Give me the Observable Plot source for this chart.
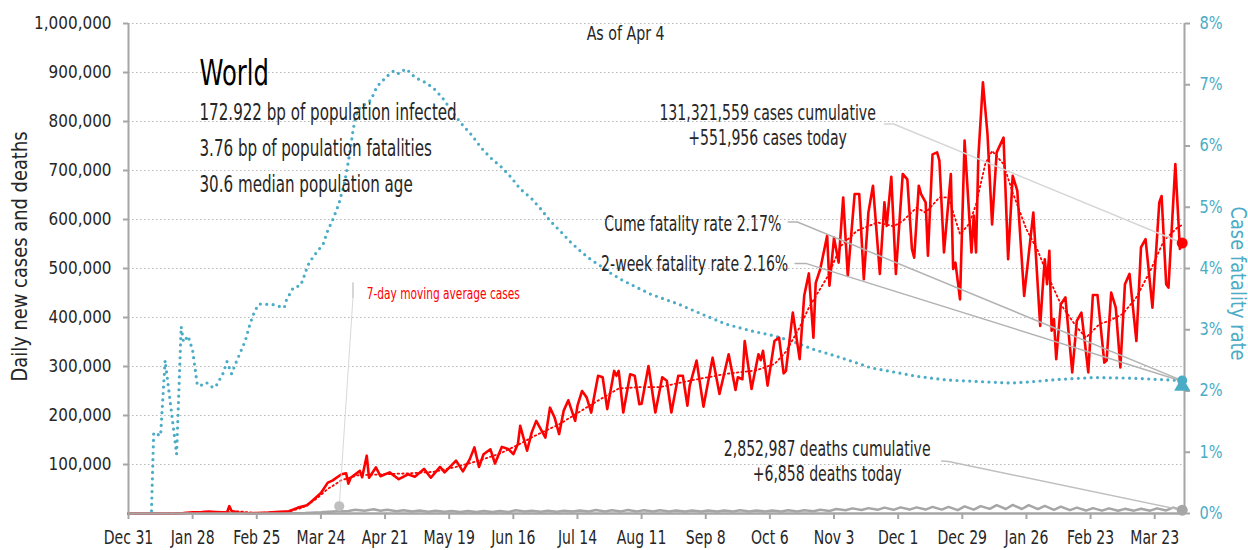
<!DOCTYPE html>
<html><head><meta charset="utf-8">
<script src="https://cdn.jsdelivr.net/npm/d3@7"></script>
<script src="https://cdn.jsdelivr.net/npm/@observablehq/plot@0.6"></script>
<style>
html,body{margin:0;padding:0;background:#fff;}
#chart svg{display:block;}
</style></head><body><div id="chart"></div>
<script>
// ---------- data ----------
const dailyCases = [
["2019-12-31",0],["2020-01-20",200],["2020-01-24",700],["2020-01-28",2500],["2020-02-01",2800],["2020-02-04",3900],
["2020-02-07",3200],["2020-02-10",2500],["2020-02-12",2000],["2020-02-13",15000],["2020-02-14",5000],["2020-02-17",2000],
["2020-02-21",600],["2020-02-25",900],["2020-03-01",1800],["2020-03-06",3500],["2020-03-10",4500],["2020-03-14",12000],
["2020-03-18",17000],["2020-03-21",29000],["2020-03-24",42000],["2020-03-27",63000],["2020-03-29",67000],["2020-04-02",80000],
["2020-04-04",82000],["2020-04-05",61000],["2020-04-06",73000],["2020-04-10",87000],["2020-04-11",74000],["2020-04-13",118000],
["2020-04-14",73000],["2020-04-17",94000],["2020-04-19",76000],["2020-04-23",84000],["2020-04-27",70000],["2020-05-01",80000],
["2020-05-04",75000],["2020-05-08",91000],["2020-05-11",73000],["2020-05-15",95000],["2020-05-17",84000],["2020-05-22",108000],
["2020-05-25",86000],["2020-05-28",111000],["2020-05-30",135000],["2020-06-01",95000],["2020-06-03",121000],["2020-06-06",131000],
["2020-06-08",102000],["2020-06-11",136000],["2020-06-14",131000],["2020-06-16",121000],["2020-06-18",142000],["2020-06-19",179000],
["2020-06-22",128000],["2020-06-24",165000],["2020-06-26",189000],["2020-06-30",155000],["2020-07-02",216000],["2020-07-04",196000],
["2020-07-06",162000],["2020-07-08",210000],["2020-07-10",231000],["2020-07-13",189000],["2020-07-14",220000],["2020-07-16",250000],
["2020-07-18",237000],["2020-07-20",206000],["2020-07-23",281000],["2020-07-25",278000],["2020-07-27",213000],["2020-07-30",291000],
["2020-07-31",281000],["2020-08-01",291000],["2020-08-03",206000],["2020-08-06",284000],["2020-08-08",281000],["2020-08-10",223000],
["2020-08-11",224000],["2020-08-14",301000],["2020-08-17",206000],["2020-08-20",278000],["2020-08-22",271000],["2020-08-24",206000],
["2020-08-27",281000],["2020-08-29",281000],["2020-08-31",220000],["2020-09-01",261000],["2020-09-04",312000],["2020-09-07",218000],
["2020-09-11",318000],["2020-09-14",244000],["2020-09-18",325000],["2020-09-21",252000],["2020-09-22",278000],["2020-09-24",274000],
["2020-09-25",352000],["2020-09-28",254000],["2020-10-01",325000],["2020-10-02",313000],["2020-10-03",332000],["2020-10-05",261000],
["2020-10-08",352000],["2020-10-10",359000],["2020-10-12",286000],["2020-10-13",291000],["2020-10-16",410000],["2020-10-19",315000],
["2020-10-21",445000],["2020-10-23",490000],["2020-10-25",359000],["2020-10-26",470000],["2020-10-28",499000],["2020-10-31",567000],
["2020-11-01",465000],["2020-11-03",563000],["2020-11-05",512000],["2020-11-07",645000],["2020-11-09",485000],["2020-11-12",652000],
["2020-11-14",652000],["2020-11-16",478000],["2020-11-18",614000],["2020-11-20",669000],["2020-11-23",489000],["2020-11-25",635000],
["2020-11-26",587000],["2020-11-28",687000],["2020-11-30",489000],["2020-12-03",693000],["2020-12-05",682000],["2020-12-07",540000],
["2020-12-08",522000],["2020-12-10",669000],["2020-12-11",652000],["2020-12-13",635000],["2020-12-14",526000],["2020-12-16",733000],
["2020-12-18",737000],["2020-12-19",720000],["2020-12-21",533000],["2020-12-24",693000],["2020-12-25",499000],["2020-12-26",512000],
["2020-12-28",437000],["2020-12-30",761000],["2021-01-02",533000],["2021-01-03",608000],["2021-01-04",533000],["2021-01-05",727000],
["2021-01-07",880000],["2021-01-09",774000],["2021-01-11",590000],["2021-01-13",737000],["2021-01-16",767000],["2021-01-18",519000],
["2021-01-20",689000],["2021-01-22",659000],["2021-01-25",444000],["2021-01-29",614000],["2021-02-01",383000],["2021-02-02",454000],
["2021-02-03",519000],["2021-02-04",468000],["2021-02-05",536000],["2021-02-06",373000],["2021-02-07",397000],["2021-02-08",315000],
["2021-02-10",427000],["2021-02-12",441000],["2021-02-15",288000],["2021-02-17",393000],["2021-02-19",410000],["2021-02-22",288000],
["2021-02-24",446000],["2021-02-26",446000],["2021-03-01",308000],["2021-03-02",312000],["2021-03-04",451000],["2021-03-06",420000],
["2021-03-08",298000],["2021-03-10",468000],["2021-03-12",489000],["2021-03-15",352000],["2021-03-17",543000],["2021-03-19",560000],
["2021-03-22",420000],["2021-03-25",635000],["2021-03-26",648000],["2021-03-28",468000],["2021-03-29",461000],["2021-04-01",713000],
["2021-04-03",540000],["2021-04-04",551956]
];

const movingAverageCases = [
["2020-01-10",0],["2020-01-22",300],["2020-01-28",1500],["2020-02-05",3000],["2020-02-12",2500],["2020-02-17",4500],
["2020-02-24",1200],["2020-03-03",1800],["2020-03-10",4000],["2020-03-16",12000],["2020-03-22",30000],["2020-03-27",50000],
["2020-04-02",68000],["2020-04-09",78000],["2020-04-20",80000],["2020-05-01",82000],["2020-05-12",85000],["2020-05-22",95000],
["2020-06-01",108000],["2020-06-10",122000],["2020-06-18",140000],["2020-06-26",160000],["2020-07-06",182000],["2020-07-14",205000],
["2020-07-21",225000],["2020-08-01",255000],["2020-08-10",258000],["2020-08-19",258000],["2020-09-02",272000],["2020-09-17",285000],
["2020-09-30",292000],["2020-10-08",305000],["2020-10-13",330000],["2020-10-19",380000],["2020-10-23",420000],["2020-10-31",482000],
["2020-11-06",546000],["2020-11-13",577000],["2020-11-22",594000],["2020-11-29",586000],["2020-12-03",597000],["2020-12-09",624000],
["2020-12-13",614000],["2020-12-19",645000],["2020-12-23",645000],["2020-12-28",570000],["2021-01-01",591000],["2021-01-04",631000],
["2021-01-08",713000],["2021-01-11",740000],["2021-01-16",713000],["2021-01-20",655000],["2021-01-26",580000],["2021-01-31",536000],
["2021-02-04",489000],["2021-02-10",427000],["2021-02-17",380000],["2021-02-21",359000],["2021-02-27",387000],["2021-03-03",393000],
["2021-03-09",407000],["2021-03-15",441000],["2021-03-21",495000],["2021-03-27",557000],["2021-04-02",584000],["2021-04-04",589000]
];

const dailyDeaths = [
["2019-12-31",0],["2020-01-10",0],["2020-01-23",10],["2020-01-31",45],["2020-02-10",100],["2020-02-20",120],["2020-02-24",150],
["2020-03-01",70],["2020-03-10",300],["2020-03-17",900],["2020-03-24",2400],["2020-03-31",4700],["2020-04-05",5000],["2020-04-08",7500],
["2020-04-12",5500],["2020-04-16",8500],["2020-04-19",5500],["2020-04-22",7500],["2020-04-26",4500],["2020-04-29",6800],["2020-05-03",4000],
["2020-05-06",6200],["2020-05-10",3800],["2020-05-13",5500],["2020-05-17",3600],["2020-05-20",5000],["2020-05-24",3000],["2020-05-27",5300],
["2020-05-31",3000],["2020-06-03",5200],["2020-06-07",3200],["2020-06-10",5000],["2020-06-14",3200],["2020-06-17",6500],["2020-06-21",3900],
["2020-06-24",5500],["2020-06-28",3500],["2020-07-01",5500],["2020-07-05",3800],["2020-07-08",5800],["2020-07-12",4000],["2020-07-15",6000],
["2020-07-19",4000],["2020-07-22",7000],["2020-07-26",4300],["2020-07-29",6500],["2020-08-02",4300],["2020-08-05",7000],["2020-08-09",4300],
["2020-08-12",6800],["2020-08-16",4200],["2020-08-19",6800],["2020-08-23",4000],["2020-08-26",6200],["2020-08-30",4000],["2020-09-02",6200],
["2020-09-06",4000],["2020-09-09",6000],["2020-09-13",4000],["2020-09-16",6300],["2020-09-20",4000],["2020-09-23",6500],["2020-09-27",3900],
["2020-09-30",6300],["2020-10-04",4000],["2020-10-07",6300],["2020-10-11",4000],["2020-10-14",6600],["2020-10-18",4300],["2020-10-21",6800],
["2020-10-25",4500],["2020-10-28",7500],["2020-11-01",5200],["2020-11-04",9200],["2020-11-08",6500],["2020-11-11",10500],["2020-11-15",7000],
["2020-11-18",11000],["2020-11-22",7500],["2020-11-25",12000],["2020-11-29",7500],["2020-12-02",12500],["2020-12-06",8000],["2020-12-09",12500],
["2020-12-13",8000],["2020-12-16",13500],["2020-12-20",8000],["2020-12-23",13500],["2020-12-27",6800],["2020-12-30",14500],["2021-01-03",7800],
["2021-01-06",15000],["2021-01-10",9500],["2021-01-13",17000],["2021-01-17",9200],["2021-01-20",17500],["2021-01-24",9200],["2021-01-27",17000],
["2021-01-31",9000],["2021-02-03",15500],["2021-02-07",7500],["2021-02-10",14000],["2021-02-14",6800],["2021-02-17",12000],["2021-02-21",6000],
["2021-02-24",11000],["2021-02-28",5800],["2021-03-03",10500],["2021-03-07",5500],["2021-03-10",9500],["2021-03-14",5800],["2021-03-17",9600],
["2021-03-21",5800],["2021-03-24",10500],["2021-03-28",6200],["2021-03-31",12000],["2021-04-04",6858]
];

// case fatality rate, percent (right axis)
const caseFatalityRate = [
["2019-12-31",0],["2020-01-10",0],["2020-01-11",1.32],["2020-01-14",1.27],["2020-01-16",2.5],["2020-01-21",0.97],["2020-01-23",3.05],
["2020-01-24",2.8],["2020-01-26",2.9],["2020-01-28",2.66],["2020-01-30",2.11],["2020-01-31",2.08],["2020-02-03",2.14],["2020-02-05",2.07],
["2020-02-07",2.06],["2020-02-08",2.14],["2020-02-10",2.26],["2020-02-12",2.48],["2020-02-13",2.38],["2020-02-14",2.28],["2020-02-16",2.47],
["2020-02-20",2.82],["2020-02-22",3.09],["2020-02-24",3.30],["2020-02-26",3.42],["2020-03-03",3.41],["2020-03-08",3.36],["2020-03-09",3.49],
["2020-03-12",3.69],["2020-03-15",3.72],["2020-03-16",3.80],["2020-03-17",3.91],["2020-03-18",4.02],["2020-03-19",4.10],["2020-03-21",4.21],
["2020-03-25",4.40],["2020-03-27",4.62],["2020-03-29",4.78],["2020-03-31",4.97],["2020-04-01",5.08],["2020-04-02",5.22],["2020-04-03",5.35],
["2020-04-04",5.54],["2020-04-05",5.75],["2020-04-06",5.98],["2020-04-07",6.25],["2020-04-08",6.45],["2020-04-09",6.58],["2020-04-11",6.66],
["2020-04-13",6.69],["2020-04-15",6.76],["2020-04-16",6.85],["2020-04-17",6.93],["2020-04-19",7.04],["2020-04-21",7.10],["2020-04-23",7.18],
["2020-04-25",7.23],["2020-04-27",7.18],["2020-04-30",7.26],["2020-05-02",7.20],["2020-05-04",7.12],["2020-05-08",7.05],["2020-05-12",6.95],
["2020-05-16",6.79],["2020-05-20",6.58],["2020-05-24",6.38],["2020-05-29",6.17],["2020-06-02",5.97],["2020-06-06",5.81],["2020-06-11",5.65],
["2020-06-15",5.49],["2020-06-19",5.30],["2020-06-24",5.14],["2020-06-28",4.97],["2020-07-02",4.78],["2020-07-07",4.59],["2020-07-11",4.43],
["2020-07-16",4.26],["2020-07-20",4.14],["2020-07-25",4.02],["2020-07-29",3.91],["2020-08-03",3.80],["2020-08-15",3.58],["2020-08-27",3.42],
["2020-09-06",3.26],["2020-09-17",3.09],["2020-09-28",2.98],["2020-10-08",2.90],["2020-10-15",2.82],["2020-10-25",2.68],["2020-11-03",2.58],
["2020-11-12",2.47],["2020-11-19",2.38],["2020-11-29",2.31],["2020-12-09",2.24],["2020-12-22",2.18],["2021-01-02",2.16],["2021-01-13",2.14],
["2021-01-19",2.13],["2021-01-28",2.15],["2021-02-06",2.18],["2021-02-14",2.20],["2021-02-25",2.22],["2021-03-12",2.21],["2021-03-24",2.19],
["2021-04-04",2.17]
];

const xTickDates = ["2019-12-31","2020-01-28","2020-02-25","2020-03-24","2020-04-21","2020-05-19","2020-06-16","2020-07-14",
  "2020-08-11","2020-09-08","2020-10-06","2020-11-03","2020-12-01","2020-12-29","2021-01-26","2021-02-23","2021-03-23"];
const leftTicks = [100000,200000,300000,400000,500000,600000,700000,800000,900000,1000000];
const rightTicksPct = [0,1,2,3,4,5,6,7,8];

const lastDate = "2021-04-04";
const casesToday = 551956, deathsToday = 6858;
const cumeFatalityRate = 2.17, twoWeekFatalityRate = 2.16;
const labelTexts = {
  region: "World",
  infected: "172.922 bp of population infected",
  fatalities: "3.76 bp of population fatalities",
  age: "30.6 median population age",
  asOf: "As of Apr 4",
  casesCum: "131,321,559 cases cumulative",
  casesToday: "+551,956 cases today",
  cume: "Cume fatality rate 2.17%",
  twoWeek: "2-week fatality rate 2.16%",
  deathsCum: "2,852,987 deaths cumulative",
  deathsToday: "+6,858 deaths today",
  ma: "7-day moving average cases",
  yLeft: "Daily new cases and deaths",
  yRight: "Case fatality rate"
};

// ---------- build ----------
const FONT = "'Liberation Sans Narrow','Arial Narrow','DejaVu Sans Condensed',sans-serif";
const RED = "#ff0000", TEAL = "#4bacc6", GRAY = "#a6a6a6", INK = "#262626";
const PCT = 125000; // 1 percentage point on the right axis = 125,000 on the left axis (8% <-> 1,000,000)
const parse = d3.utcParse("%Y-%m-%d");
const rows = arr => arr.map(([d, v]) => ({date: parse(d), value: v}));
const cases = rows(dailyCases), ma = rows(movingAverageCases), deaths = rows(dailyDeaths);
const cfr = caseFatalityRate.map(([d, v]) => ({date: parse(d), value: v * PCT}));
const xDomain = [parse("2019-12-31"), parse("2021-04-05")];
const D = parse(lastDate);

const note = (date, value, text, o = {}) =>
  Plot.text([text], {x: [parse(date)], y: [value], text: d => d, fill: INK, fontSize: 21, textAnchor: "start", ...o});
const leader = (pts, o = {}) =>
  Plot.line(pts.map(([d, v]) => ({date: typeof d === "string" ? parse(d) : d, value: v})),
    {x: "date", y: "value", stroke: "#b3b3b3", strokeWidth: 1.5, ...o});

const chart = Plot.plot({
  width: 1248, height: 550,
  marginLeft: 128, marginRight: 64, marginTop: 23, marginBottom: 37,
  x: {type: "utc", domain: xDomain},
  y: {domain: [0, 1000000]},
  style: {fontFamily: FONT, fontSize: "20px", background: "#fff", overflow: "visible", color: INK},
  marks: [
    Plot.gridY(leftTicks, {stroke: "#b8b8b8", strokeOpacity: 1, strokeWidth: 1.2, strokeDasharray: "1.5,2.5"}),
    // case fatality rate (right axis)
    Plot.line(cfr, {x: "date", y: "value", stroke: TEAL, strokeWidth: 3.2, strokeDasharray: "0,6.4", strokeLinecap: "round"}),
    // deaths
    Plot.line(deaths, {x: "date", y: "value", stroke: GRAY, strokeWidth: 2.5}),
    // 7-day moving average cases
    Plot.line(ma, {x: "date", y: "value", stroke: RED, strokeWidth: 1.8, strokeDasharray: "1.5,3"}),
    // daily cases
    Plot.line(cases, {x: "date", y: "value", stroke: RED, strokeWidth: 2.6, strokeLinejoin: "round"}),
    // axis lines
    Plot.ruleX([xDomain[0]], {stroke: GRAY, strokeWidth: 2}),
    Plot.ruleX([xDomain[1]], {stroke: GRAY, strokeWidth: 2}),
    Plot.ruleY([0], {stroke: GRAY, strokeWidth: 2.5}),
    Plot.axisX({ticks: xTickDates.map(parse), tickFormat: d3.utcFormat("%b %-d"), tickSize: 6, tickPadding: 10,
      stroke: GRAY, strokeWidth: 2, fill: INK, fontSize: 20, label: null}),
    Plot.axisY({ticks: leftTicks, tickFormat: d3.format(","), tickSize: 5, tickPadding: 12, stroke: GRAY, strokeWidth: 2,
      fill: INK, fontSize: 18, label: null}),
    Plot.axisY({anchor: "right", ticks: rightTicksPct.map(p => p * PCT), tickFormat: v => Math.round(v / PCT) + "%",
      tickSize: 5, tickPadding: 10, stroke: GRAY, strokeWidth: 2, fill: TEAL, fontSize: 17, label: null}),
    Plot.text([labelTexts.yLeft], {frameAnchor: "left", textAnchor: "middle", rotate: -90, dx: -108, dy: -12, fontSize: 20.5, fill: INK}),
    Plot.text([labelTexts.yRight], {frameAnchor: "right", textAnchor: "middle", rotate: 90, dx: 53, dy: 15, fontSize: 20.5, fill: TEAL}),
    // leader lines
    leader([["2020-11-25", 795000], ["2020-11-29", 795000], [D, casesToday]], {stroke: "#d6d6d6"}),
    leader([["2020-10-14", 595000], ["2020-10-18", 595000], [D, cumeFatalityRate * PCT]]),
    leader([["2020-10-17", 510000], ["2020-10-22", 510000], [D, twoWeekFatalityRate * PCT]]),
    leader([["2020-12-20", 107000], ["2020-12-23", 106000], [D, deathsToday]], {stroke: "#bfbfbf"}),
    leader([["2020-04-07", 441000], ["2020-04-01", 15000]], {stroke: "#d9d9d9", strokeWidth: 1}),
    leader([["2020-04-07", 471000], ["2020-04-07", 441000]], {stroke: "#b0b0b0", strokeWidth: 1}),
    // end markers
    Plot.dot([0], {x: [parse("2020-04-01")], y: [15000], r: 5, fill: "#bfbfbf"}),
    Plot.dot([0], {x: [D], y: [casesToday], r: 5.5, fill: RED}),
    Plot.dot([0], {x: [D], y: [deathsToday], r: 5.5, fill: GRAY}),
    Plot.dot([0], {x: [D], y: [twoWeekFatalityRate * PCT], r: 6, symbol: "triangle", fill: TEAL, dy: 5}),
    Plot.dot([0], {x: [D], y: [cumeFatalityRate * PCT], r: 5, fill: TEAL}),
    // texts
    note("2020-01-31", 899000, labelTexts.region, {fontSize: 36, fill: "#000"}),
    note("2020-01-31", 818000, labelTexts.infected, {fontSize: 23}),
    note("2020-01-31", 745000, labelTexts.fatalities, {fontSize: 23}),
    note("2020-01-31", 671000, labelTexts.age, {fontSize: 23}),
    note("2020-08-04", 979000, labelTexts.asOf, {textAnchor: "middle", fontSize: 19}),
    note("2020-10-05", 816500, labelTexts.casesCum, {textAnchor: "middle"}),
    note("2020-10-05", 765500, labelTexts.casesToday, {textAnchor: "middle"}),
    note("2020-10-11", 590000, labelTexts.cume, {textAnchor: "end"}),
    note("2020-10-14", 508400, labelTexts.twoWeek, {textAnchor: "end"}),
    note("2020-10-31", 130800, labelTexts.deathsCum, {textAnchor: "middle"}),
    note("2020-10-31", 79800, labelTexts.deathsToday, {textAnchor: "middle"}),
    note("2020-04-13", 448000, labelTexts.ma, {fill: RED, fontSize: 16.5})
  ]
});
document.getElementById("chart").append(chart);

// horizontal squeeze of each text to the narrow face of the original, keyed by font size
const squeeze = {"20": 0.78, "18": 0.94, "17": 0.95, "23": 0.73, "36": 0.75, "21": 0.745, "19": 0.83, "16.5": 0.715, "20.5": 0.97};
chart.querySelectorAll("text").forEach(t => {
  const f = squeeze[String(parseFloat(getComputedStyle(t).fontSize))];
  if (f) {
    const len = t.getComputedTextLength();
    t.setAttribute("textLength", (len * f).toFixed(1));
    t.setAttribute("lengthAdjust", "spacingAndGlyphs");
  }
});
</script>
</body></html>
